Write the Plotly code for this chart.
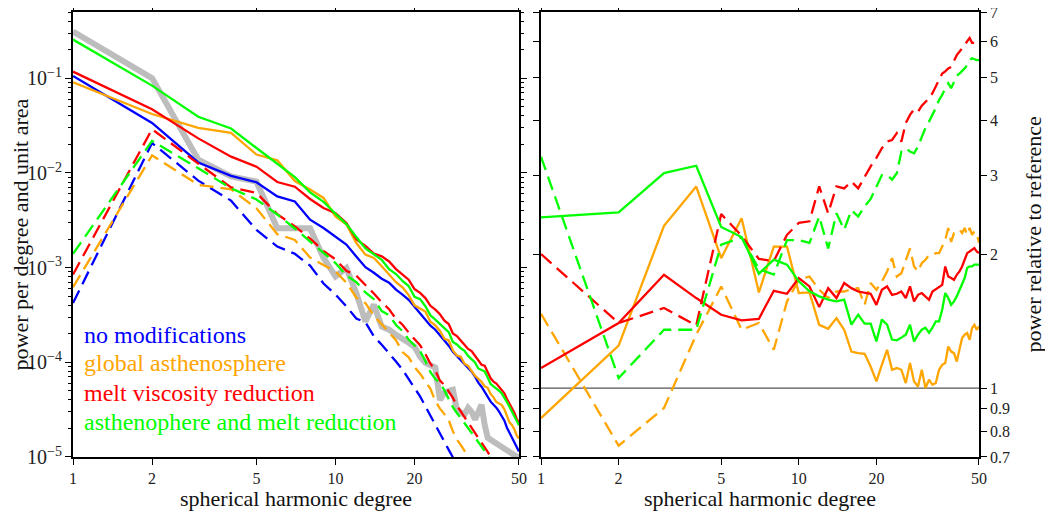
import numpy as np
import plotly.graph_objects as go

FONT = "Liberation Serif"

degree = list(range(1, 51))
x_tickvals = [1, 2, 5, 10, 20, 50]
x_ticktext = ["1", "2", "5", "10", "20", "50"]
ratio_tickvals = [0.7, 0.8, 0.9, 1, 2, 3, 4, 5, 6, 7]
ratio_ticktext = ["0.7", "0.8", "0.9", "1", "2", "3", "4", "5", "6", "7"]

series_names = ["no modifications", "global asthenosphere",
                "melt viscosity reduction", "asthenophere and melt reduction"]
series_colors = ["#0000ff", "#ffa500", "#ff0000", "#00ff00"]

# observed / reference spectrum (grey)
gray_spectrum = [0.312, 0.1005, 0.0138, 0.0092, 0.0081, 0.0026, 0.0026, 0.0026, 0.00127, 8.1e-4,
                 9.9e-4, 5.4e-4, 2.7e-4, 4.06e-4, 2.39e-4, 2.21e-4, 1.95e-4, 1.73e-4, 1.61e-4, 1.46e-4,
                 1.15e-4, 9.9e-5, 9.4e-5, 8.8e-5, 4.0e-5, 4.78e-5, 5.0e-5, 5.14e-5, 3.15e-5, 2.94e-5,
                 2.8e-5, 3.3e-5, 3.0e-5, 2.48e-5, 2.87e-5, 3.56e-5, 2.19e-5, 1.6e-5, 1.52e-5, 1.45e-5,
                 1.38e-5, 1.35e-5, 1.31e-5, 1.25e-5, 1.19e-5, 1.14e-5, 1.09e-5, 1.06e-5, 1.01e-5, 1.0e-5]

# "no modifications" model (blue): solid and dashed spectra
blue_solid = [0.106, 0.0337, 0.0129, 0.00933, 0.00798, 0.00565, 0.00500, 0.00321, 0.00262, 0.00213,
              0.00175, 0.00131, 0.00101, 0.000883, 0.000764, 0.000693, 0.000585, 0.000518, 0.000458, 0.000386,
              0.000326, 0.000282, 0.000244, 0.000221, 0.000195, 0.000173, 0.000150, 0.000129, 0.000117, 0.000104,
              9.66e-5, 8.77e-5, 7.96e-5, 7.05e-5, 6.10e-5, 5.52e-5, 4.90e-5, 4.34e-5, 3.84e-5, 3.56e-5,
              3.32e-5, 3.01e-5, 2.73e-5, 2.42e-5, 2.04e-5, 1.81e-5, 1.60e-5, 1.42e-5, 1.25e-5, 1.14e-5]
blue_dashed = [4.23e-4, 0.0207, 0.0083, 0.0051, 0.0025, 0.00167, 0.00140, 0.00105, 6.8e-4, 5.2e-4,
               3.9e-4, 2.9e-4, 2.65e-4, 1.88e-4, 1.53e-4, 1.25e-4, 1.02e-4, 8.35e-5, 6.55e-5, 5.35e-5,
               4.37e-5, 3.42e-5, 2.68e-5, 2.19e-5, 1.79e-5, 1.46e-5, 1.19e-5, 9.95e-6, 8.36e-6, 7.05e-6,
               5.98e-6, 5.11e-6, 4.38e-6, 3.77e-6, 3.26e-6, 2.83e-6, 2.47e-6, 2.16e-6, 1.90e-6, 1.67e-6,
               1.48e-6, 1.31e-6, 1.17e-6, 1.04e-6, 9.3e-7, 8.3e-7, 7.5e-7, 6.7e-7, 6.05e-7, 5.47e-7]

# power relative to the "no modifications" model
orange_solid_ratio = [0.856, 1.245, 2.316, 2.837, 1.959, 2.409, 1.640, 2.080, 2.080, 1.635,
                      1.640, 1.387, 1.359, 1.436, 1.352, 1.208, 1.198, 1.194, 1.118, 1.035,
                      1.128, 1.219, 1.099, 1.109, 1.099, 1.026, 1.138, 1.035, 1.008, 1.099,
                      1.000, 1.044, 1.017, 1.026, 1.099, 1.128, 1.138, 1.240, 1.208, 1.198,
                      1.147, 1.230, 1.295, 1.318, 1.329, 1.284, 1.364, 1.387, 1.352, 1.375]
red_solid_ratio = [1.109, 1.400, 1.797, 1.593, 1.461, 1.419, 1.431, 1.654, 1.629, 1.767,
                   1.692, 1.520, 1.677, 1.593, 1.722, 1.677, 1.648, 1.635, 1.629, 1.538,
                   1.663, 1.692, 1.620, 1.629, 1.648, 1.593, 1.692, 1.565, 1.620, 1.635,
                   1.606, 1.579, 1.648, 1.669, 1.692, 1.706, 1.876, 1.781, 1.767, 1.751,
                   1.797, 1.828, 1.876, 1.942, 2.010, 2.027, 2.045, 2.063, 2.027, 2.010]
green_solid_ratio = [2.418, 2.482, 3.043, 3.160, 2.301, 2.185, 1.807, 1.943, 1.894, 1.737,
                     1.649, 1.607, 1.580, 1.566, 1.580, 1.388, 1.462, 1.395, 1.395, 1.273,
                     1.425, 1.388, 1.285, 1.280, 1.298, 1.318, 1.388, 1.273, 1.318, 1.353,
                     1.367, 1.332, 1.367, 1.412, 1.412, 1.500, 1.635, 1.594, 1.539, 1.566,
                     1.607, 1.664, 1.722, 1.767, 1.862, 1.877, 1.877, 1.894, 1.894, 1.894]
orange_dashed_ratio = [1.469, 0.742, 0.902, 1.318, 1.691, 1.352, 1.400, 1.219, 1.565, 1.751,
                       1.781, 1.663, 1.593, 1.648, 1.648, 1.669, 1.677, 1.538, 1.722, 1.663,
                       1.736, 1.828, 1.959, 1.781, 1.812, 1.942, 2.060, 1.876, 1.828, 1.908,
                       1.942, 1.990, 1.990, 2.010, 2.010, 2.080, 2.150, 2.290, 2.130, 2.230,
                       2.250, 2.270, 2.230, 2.290, 2.210, 2.290, 2.210, 2.250, 2.230, 2.120]
red_dashed_ratio = [2.00, 1.40, 1.513, 1.382, 2.46, 2.20, 1.95, 1.93, 2.21, 2.35,
                    2.37, 2.84, 2.47, 2.84, 2.81, 2.91, 2.81, 2.99, 3.15, 3.29,
                    3.46, 3.58, 3.61, 3.74, 3.58, 3.94, 4.11, 4.23, 4.18, 4.31,
                    4.40, 4.48, 4.60, 4.76, 4.93, 5.09, 5.15, 5.23, 5.27, 5.46,
                    5.60, 5.70, 5.81, 5.88, 6.00, 6.12, 5.97, 5.97, 6.00, 5.97]
green_dashed_ratio = [3.31, 1.053, 1.352, 1.352, 2.10, 2.18, 1.85, 1.80, 2.15, 2.15,
                      2.12, 2.43, 2.06, 2.47, 2.27, 2.51, 2.43, 2.56, 2.66, 2.84,
                      3.01, 3.01, 2.94, 3.04, 3.40, 3.46, 3.40, 3.37, 3.49, 3.67,
                      3.84, 3.97, 4.11, 4.26, 4.44, 4.56, 4.72, 4.84, 4.72, 4.88,
                      5.03, 5.09, 5.15, 5.23, 5.32, 5.46, 5.51, 5.48, 5.46, 5.46]
reference_level = [1, 1]
reference_span = [1, 50]

solid_ratios = [None, orange_solid_ratio, red_solid_ratio, green_solid_ratio]
dashed_ratios = [None, orange_dashed_ratio, red_dashed_ratio, green_dashed_ratio]

DASH = "14px,7px"
LW = 2.3
fig = go.Figure()

# ---- left panel ----
fig.add_trace(go.Scatter(x=degree, y=gray_spectrum, mode="lines",
                         line=dict(color="#bdbdbd", width=6), xaxis="x", yaxis="y",
                         showlegend=False))
for i, col in enumerate(series_colors):
    if i == 0:
        dashed = np.array(blue_dashed)
        solid = np.array(blue_solid)
    else:
        dashed = np.array(blue_dashed) * np.array(dashed_ratios[i])
        solid = np.array(blue_solid) * np.array(solid_ratios[i])
    fig.add_trace(go.Scatter(x=degree, y=dashed, mode="lines",
                             line=dict(color=col, width=LW, dash=DASH),
                             xaxis="x", yaxis="y", showlegend=False))
    fig.add_trace(go.Scatter(x=degree, y=solid, mode="lines",
                             line=dict(color=col, width=LW),
                             xaxis="x", yaxis="y", showlegend=False))

# ---- right panel ----
fig.add_trace(go.Scatter(x=reference_span, y=reference_level, mode="lines",
                         line=dict(color="#555555", width=1.2), xaxis="x2", yaxis="y2",
                         showlegend=False))
for i, col in enumerate(series_colors):
    if i == 0:
        continue
    fig.add_trace(go.Scatter(x=degree, y=dashed_ratios[i], mode="lines",
                             line=dict(color=col, width=LW, dash=DASH),
                             xaxis="x2", yaxis="y2", showlegend=False))
    fig.add_trace(go.Scatter(x=degree, y=solid_ratios[i], mode="lines",
                             line=dict(color=col, width=LW),
                             xaxis="x2", yaxis="y2", showlegend=False))

tickfont = dict(family=FONT, size=16, color="#222222")
common = dict(showline=True, linecolor="black", linewidth=1.8, mirror="allticks",
              ticks="outside", ticklen=6, tickwidth=1.2, tickcolor="black",
              showgrid=False, zeroline=False, tickfont=tickfont,
              ticklabeloverflow="allow")

# page has an 8px body margin: figure occupies page pixels 8..1053 x 8..513
W, H = 1045, 505
ML, MR, MT, MB = 65, 74, 4, 56
PW = W - ML - MR
PH = H - MT - MB
L_DOM = [0.0, (519 - 73) / PW]
R_DOM = [(541 - 73) / PW, 1.0]
EPS = 1e-4

fig.update_layout(
    width=W, height=H,
    margin=dict(l=ML, r=MR, t=MT, b=MB, autoexpand=False),
    paper_bgcolor="white", plot_bgcolor="white",
    xaxis=dict(type="log", domain=L_DOM, anchor="y", range=[-EPS, np.log10(50) + EPS],
               tickvals=x_tickvals, ticktext=x_ticktext, **common),
    yaxis=dict(type="log", domain=[0, 1], anchor="x", range=[-5 - EPS, -0.3],
               dtick=1, exponentformat="power", showexponent="all",
               minor=dict(ticks="outside", ticklen=3, tickcolor="black", dtick="D1"),
               **common),
    xaxis2=dict(type="log", domain=R_DOM, anchor="y2", range=[-EPS, np.log10(50) + EPS],
                tickvals=x_tickvals, ticktext=x_ticktext, **common),
    yaxis2=dict(type="log", domain=[0, 1], anchor="x2", side="right",
                range=[np.log10(0.7) - EPS, np.log10(7) + EPS],
                tickvals=ratio_tickvals, ticktext=ratio_ticktext, **common),
)

# helpers: page pixel -> paper coordinate
def pxx(px):
    return (px - 73) / PW

def pxy(py):
    return (457 - py) / PH

TITLE_FONT = dict(family=FONT, size=22, color="#111111")
ann = []
ann.append(dict(text="power per degree and unit area", x=pxx(20), y=0.5, xref="paper", yref="paper",
                textangle=-90, showarrow=False, font=TITLE_FONT,
                xanchor="center", yanchor="middle"))
ann.append(dict(text="power relative to reference", x=pxx(1033), y=0.5, xref="paper", yref="paper",
                textangle=-90, showarrow=False, font=TITLE_FONT,
                xanchor="center", yanchor="middle"))
for cx in (296, 760):
    ann.append(dict(text="spherical harmonic degree", x=pxx(cx), y=pxy(498), xref="paper", yref="paper",
                    showarrow=False, font=TITLE_FONT, xanchor="center", yanchor="middle"))
legend_y = [335, 363, 393, 422]
for name, col, ly in zip(series_names, series_colors, legend_y):
    ann.append(dict(text=name, x=pxx(82), y=pxy(ly), xref="paper", yref="paper",
                    showarrow=False, font=dict(family=FONT, size=24, color=col),
                    xanchor="left", yanchor="middle"))
fig.update_layout(annotations=ann)

fig.write_html("out.html")
